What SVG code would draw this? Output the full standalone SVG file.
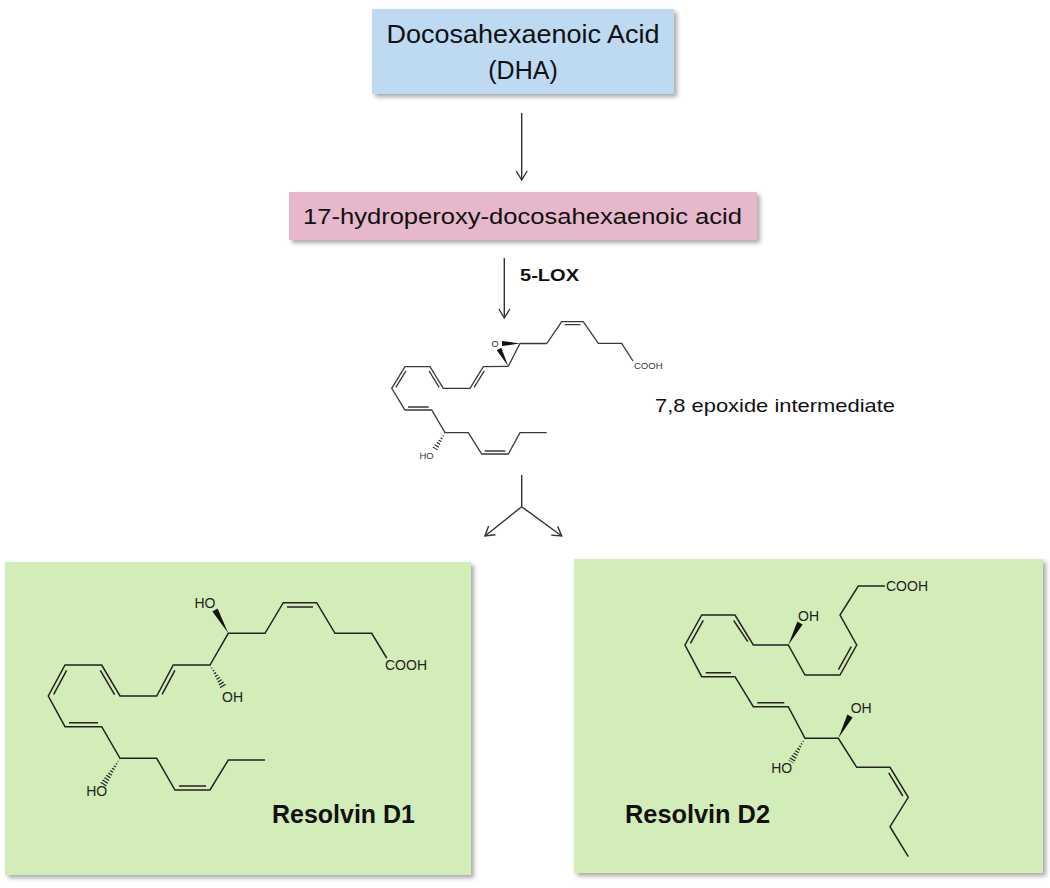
<svg xmlns="http://www.w3.org/2000/svg" width="1050" height="888" viewBox="0 0 1050 888">
<style>
.box{stroke:none}
.ttl{font-family:"Liberation Sans",Arial,sans-serif;fill:#111}
.bond{fill:none;stroke:#222;stroke-width:1.5;stroke-linejoin:miter;stroke-linecap:butt}
.bsm{fill:none;stroke:#3a3a3a;stroke-width:1.3;stroke-linejoin:miter}
.lbl{font-family:"Liberation Sans",Arial,sans-serif;font-size:14px;fill:#222}
.lsm{font-family:"Liberation Sans",Arial,sans-serif;font-size:9.5px;fill:#333}
.wedge{fill:#111;stroke:none}
.hash{stroke:#222;stroke-width:8;stroke-dasharray:1.2 1.8;fill:none}
.arr{fill:none;stroke:#333;stroke-width:1.4}
</style>
<defs>
<filter id="sh" x="-5%" y="-5%" width="115%" height="120%">
<feDropShadow dx="3" dy="3" stdDeviation="2" flood-color="#6f6f6f" flood-opacity="0.6"/>
</filter>
<marker id="ah" markerUnits="userSpaceOnUse" markerWidth="14" markerHeight="14" refX="12" refY="7" orient="auto" viewBox="0 0 14 14">
<path d="M3,1.5 L12,7 L3,12.5" fill="none" stroke="#333" stroke-width="1.4"/>
</marker>
<clipPath id="h1"><polygon points="210,665 221,689.8 227,686.2"/></clipPath>
<clipPath id="h2"><polygon points="120,758.3 106,786.9 100,783.1"/></clipPath>
<clipPath id="h3"><polygon points="445,432.7 437.6,450.6 432.4,447.4"/></clipPath>
<clipPath id="h4"><polygon points="805,738.3 794,763.8 788,760.2"/></clipPath>
</defs>

<g id="node-dha">
<rect class="box" x="372" y="9" width="302" height="85" fill="#BDDAF2" filter="url(#sh)"/>
<text class="ttl" x="523" y="43" font-size="25" text-anchor="middle" textLength="273" lengthAdjust="spacingAndGlyphs">Docosahexaenoic Acid</text>
<text class="ttl" x="523" y="78.5" font-size="25" text-anchor="middle">(DHA)</text>
</g>

<g id="node-17hpdha">
<rect class="box" x="289" y="192" width="468" height="48" fill="#E7B8CB" filter="url(#sh)"/>
<text class="ttl" x="522.5" y="223.5" font-size="22" text-anchor="middle" textLength="439" lengthAdjust="spacingAndGlyphs">17-hydroperoxy-docosahexaenoic acid</text>
</g>

<g id="connectors">
<line class="arr" x1="521.7" y1="113" x2="521.7" y2="180" marker-end="url(#ah)"/>
<line class="arr" x1="504.3" y1="258" x2="504.3" y2="318" marker-end="url(#ah)"/>
<text class="ttl" x="520" y="281" font-size="17" font-weight="bold" textLength="59" lengthAdjust="spacingAndGlyphs">5-LOX</text>
<line class="arr" x1="521.7" y1="475" x2="521.7" y2="506.7"/>
<line class="arr" x1="521.7" y1="506.7" x2="485" y2="536" marker-end="url(#ah)"/>
<line class="arr" x1="521.7" y1="506.7" x2="561.7" y2="536" marker-end="url(#ah)"/>
</g>

<g id="node-epoxide">
<path class="bsm" d="M508.3,366.3 L483.3,366.7 L470,388.3 L443.3,388.3 L430,366.7 L405,366.7 L391.7,388.3 L405,410 L431.7,410 L445,432.7 L468.3,432.7 L481.7,454 L508.3,454 L520,432.7 L546.7,432.7"/>
<path class="bsm" d="M508.3,366.3 L520,343.5 L546.7,343.5 L561.7,321.7 L583.3,321.7 L598.3,343.3 L621.7,343.3 L633,361"/>
<path class="bsm" d="M395.8,387.3 L406,370.8 M429,370.8 L439.2,387.3 M474.1,387.3 L484.3,370.8 M408,407 L428.7,407 M484.7,451 L505.3,451 M564.7,324.7 L580.3,324.7"/>
<polygon class="wedge" points="520,343.5 502,346 502,341"/>
<polygon class="wedge" points="508.3,366.3 501.2,347.7 496.8,350.3"/>
<line class="hash" x1="445" y1="432.7" x2="435" y2="449" clip-path="url(#h3)"/>
<text class="lsm" x="495" y="347" text-anchor="middle">O</text>
<text class="lsm" x="634" y="368.5">COOH</text>
<text class="lsm" x="426.5" y="458.5" text-anchor="middle">HO</text>
<text class="ttl" x="655" y="412" font-size="19" textLength="240" lengthAdjust="spacingAndGlyphs">7,8 epoxide intermediate</text>
</g>

<g id="node-rvd1">
<rect class="box" x="5" y="562" width="466" height="313" fill="#D3EDB8" filter="url(#sh)"/>
<path class="bond" d="M386.7,658 L371.7,633.3 L335,633.3 L316.7,602.7 L283.3,602.7 L265,633.3 L228.3,633.3 L210,665 L173.3,665 L156.7,696 L120,696 L101.7,665 L65,665 L48.3,696 L65,726.7 L101.7,726.7 L120,758.3 L156.7,758.3 L175,790 L210,790 L228.3,760 L265,760"/>
<path class="bond" d="M287,607 L313,607 M174.9,670.4 L162.1,694.4 M100.3,670.4 L114.6,694.6 M66.6,670.4 L53.7,694.4 M69,722.7 L98,722.7 M179,786 L206,786"/>
<polygon class="wedge" points="228.3,633.3 217.6,608.5 212.4,611.5"/>
<line class="hash" x1="210" y1="665" x2="224" y2="688" clip-path="url(#h1)"/>
<line class="hash" x1="120" y1="758.3" x2="103" y2="785" clip-path="url(#h2)"/>
<text class="lbl" x="205" y="608.3" text-anchor="middle">HO</text>
<text class="lbl" x="232.5" y="701.7" text-anchor="middle">OH</text>
<text class="lbl" x="385" y="670">COOH</text>
<text class="lbl" x="96.7" y="795.7" text-anchor="middle">HO</text>
<text class="ttl" x="272" y="822.7" font-size="25" font-weight="bold" textLength="143" lengthAdjust="spacingAndGlyphs">Resolvin D1</text>
</g>

<g id="node-rvd2">
<rect class="box" x="574" y="559" width="469" height="314" fill="#D3EDB8" filter="url(#sh)"/>
<path class="bond" d="M885,586 L858.3,586 L840,615 L856.7,645 L840,675 L805,675 L788.3,645 L753.3,645 L735,615 L701.7,615 L685,645 L701.7,676.7 L735,676.7 L753.3,706.7 L788.3,706.7 L805,738.3 L838.3,738.3 L856.7,767.3 L890,767.3 L908.3,797.3 L890,826.7 L908.3,856.7"/>
<path class="bond" d="M851.3,646.6 L838.4,669.6 M747.8,641.7 L733.7,620.5 M703.3,620.4 L690.4,643.4 M705.7,672.7 L731,672.7 M757.3,702.7 L784.3,702.7 M888.7,772.8 L902.8,796"/>
<polygon class="wedge" points="788.3,645 802.6,624.4 797.4,621.6"/>
<polygon class="wedge" points="838.3,738.3 852.6,717.4 847.4,714.6"/>
<line class="hash" x1="805" y1="738.3" x2="791" y2="762" clip-path="url(#h4)"/>
<text class="lbl" x="886" y="591">COOH</text>
<text class="lbl" x="798" y="621">OH</text>
<text class="lbl" x="850.7" y="713">OH</text>
<text class="lbl" x="781.7" y="773.3" text-anchor="middle">HO</text>
<text class="ttl" x="625" y="822.7" font-size="25" font-weight="bold" textLength="145" lengthAdjust="spacingAndGlyphs">Resolvin D2</text>
</g>
</svg>
